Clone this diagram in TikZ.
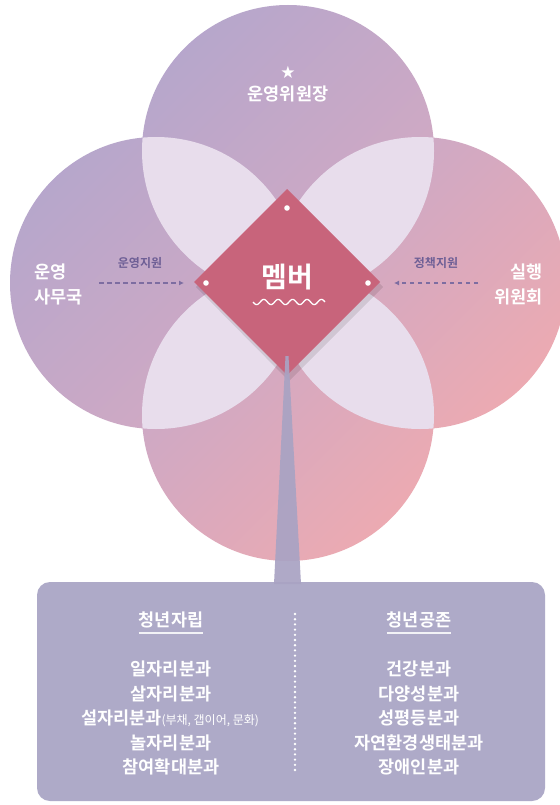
\documentclass[tikz,border=0pt]{standalone}
\usepackage{fontspec}
\setmainfont{Noto Sans CJK KR}
\newfontfamily\krb{Noto Sans CJK KR Bold}
\newfontfamily\krm{Noto Sans CJK KR}
\newfontfamily\dejavu{DejaVu Sans}
\usetikzlibrary{arrows.meta}
\definecolor{lav}{HTML}{B2A6CD}
\definecolor{midc}{HTML}{CFA9C4}
\definecolor{pinkc}{HTML}{F2AAAE}
\definecolor{lightc}{HTML}{E8DDEC}
\definecolor{diac}{HTML}{C8647B}
\definecolor{boxc}{HTML}{AEAAC8}
\definecolor{stemc}{HTML}{A9A3C3}
\definecolor{labc}{HTML}{6E5F96}
\definecolor{arrc}{HTML}{7D6DA1}
\tikzset{
  wtxt/.style={text=white, font=\krb, inner sep=0pt},
  sidetxt/.style={wtxt, font=\krb\fontsize{17.5}{25}\selectfont, align=left},
  suptxt/.style={text=labc, font=\krb\fontsize{12}{14}\selectfont, inner sep=0pt},
  dasharrow/.style={draw=arrc, line width=1.4pt, dash pattern=on 4.5pt off 3.5pt, -{Latex[length=5pt,width=5pt]}},
  boxtitle/.style={text=white, font=\krb\fontsize{17.5}{20}\selectfont, inner sep=0pt},
  boxitem/.style={text=white, font=\krb\fontsize{17.5}{20}\selectfont, inner sep=0pt},
}
\begin{document}
\begin{tikzpicture}[x=1pt,y=-1pt]
\useasboundingbox (0,0) rectangle (559,805);
\fill[white] (0,0) rectangle (559,805);
\coordinate (ct) at (288,151);
\coordinate (cl) at (156,283);
\coordinate (cr) at (420,283);
\coordinate (cb) at (288,415);
\def\R{146}
% circles with gradient
\begin{scope}
  \clip (ct) circle (\R) (cl) circle (\R) (cr) circle (\R) (cb) circle (\R);
  \shade[left color=lav, right color=pinkc, middle color=midc, shading angle=45] (0,0) rectangle (575,575);
\end{scope}
% lenses
\begin{scope}\clip (ct) circle (\R); \fill[lightc] (cl) circle (\R); \end{scope}
\begin{scope}\clip (ct) circle (\R); \fill[lightc] (cr) circle (\R); \end{scope}
\begin{scope}\clip (cb) circle (\R); \fill[lightc] (cl) circle (\R); \end{scope}
\begin{scope}\clip (cb) circle (\R); \fill[lightc] (cr) circle (\R); \end{scope}
% box
\fill[boxc, rounded corners=13pt] (37,582) rectangle (545,801);
% diamond shadow and diamond
\fill[black, opacity=0.10] (289,193) -- (383,287) -- (289,381) -- (196,287) -- cycle;
\fill[diac] (287,189) coordinate (dt) -- (380,282) coordinate (dr) -- (287,375) coordinate (db) -- (194,282) coordinate (dl) -- cycle;
% stem
\fill[stemc, fill opacity=0.93] (285.5,356) -- (288.5,356) -- (301,584) -- (274,584) -- cycle;
% dots
\fill[white] (287,208) circle (2.8) (206,283) circle (2.8) (368,283) circle (2.8);
% center text
\node[wtxt, font=\krb\fontsize{28}{30}\selectfont] (mem) at (287,277) {멤버};
\draw[white, line width=1.3pt] plot[domain=0:72, samples=120] ({253+\x}, {302+2.6*sin(\x*25)});
% top
\node[wtxt, font=\dejavu\fontsize{17}{17}\selectfont] (star) at (288,72) {★};
\node[wtxt, font=\krb\fontsize{17.5}{20}\selectfont] (chair) at (288,94) {운영위원장};
% sides
\node[sidetxt, anchor=west] (ops) at (34,284) {운영\\사무국};
\node[sidetxt, anchor=east, align=right] (exe) at (543,284) {실행\\위원회};
\node[suptxt] (sup1) at (140,263) {운영지원};
\node[suptxt] (sup2) at (436,263) {정책지원};
\coordinate (a1s) at (99,283);
\coordinate (a1e) at (184,283);
\coordinate (a2s) at (478,283);
\coordinate (a2e) at (394,283);
\draw[dasharrow] (a1s) -- (a1e);
\draw[dasharrow] (a2s) -- (a2e);
% box contents
\node[boxtitle] (t1) at (171,620) {청년자립};
\node[boxtitle] (t2) at (419,620) {청년공존};
\draw[white, line width=1.2pt, opacity=0.85] (t1.west |- 0,633) -- (t1.east |- 0,633);
\draw[white, line width=1.2pt, opacity=0.85] (t2.west |- 0,633) -- (t2.east |- 0,633);
\draw[white, line width=2.6pt, line cap=round, dash pattern=on 0pt off 5.2pt] (295,614) -- (295,774);
\node[boxitem] (l1) at (171,669) {일자리분과};
\node[boxitem] (l2) at (171,693.5) {살자리분과};
\node[boxitem] (l3) at (170,718) {설자리분과{\krm\fontsize{12}{14}\selectfont(부채, 갭이어, 문화)}};
\node[boxitem] (l4) at (171,742.5) {놀자리분과};
\node[boxitem] (l5) at (171,767) {참여확대분과};
\node[boxitem] (r1) at (419,669) {건강분과};
\node[boxitem] (r2) at (419,693.5) {다양성분과};
\node[boxitem] (r3) at (419,718) {성평등분과};
\node[boxitem] (r4) at (419,742.5) {자연환경생태분과};
\node[boxitem] (r5) at (419,767) {장애인분과};
\end{tikzpicture}
\end{document}
